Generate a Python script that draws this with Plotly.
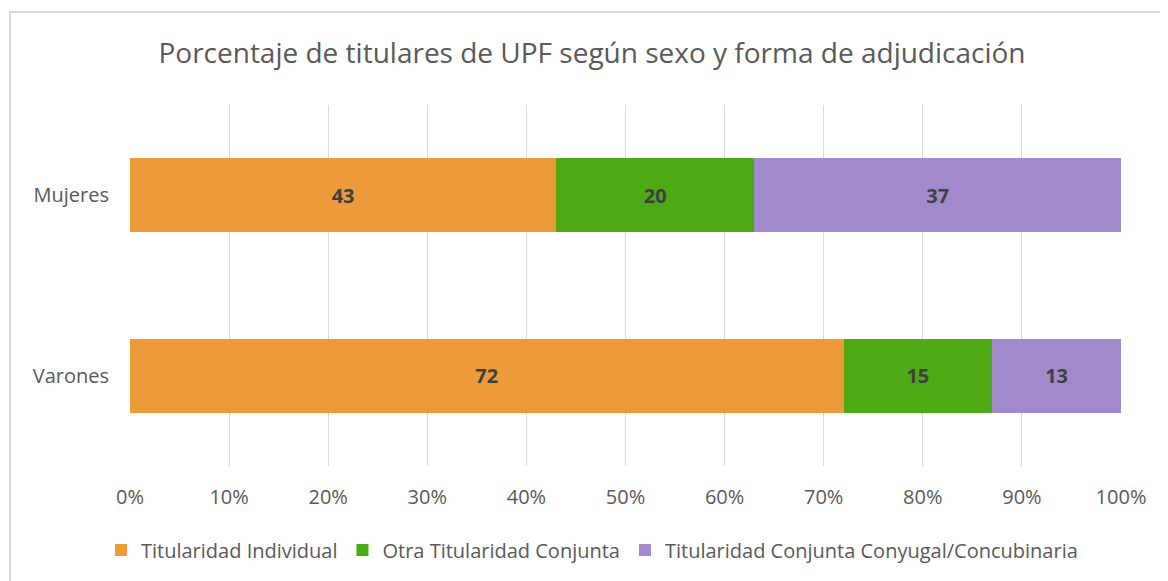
import plotly.graph_objects as go

categories = ["Varones", "Mujeres"]
series_names = ["Titularidad Individual", "Otra Titularidad Conjunta", "Titularidad Conjunta Conyugal/Concubinaria"]
individual = [72, 43]
otra_conjunta = [15, 20]
conyugal = [13, 37]
colors = ["#EC9A3A", "#4DA914", "#A08ACB"]
x_ticks = [0, 10, 20, 30, 40, 50, 60, 70, 80, 90, 100]
x_tick_labels = [f"{v}%" for v in x_ticks]

# page has an 8px body margin; positions below are figure coordinates
OFF = 8
W, H = 1168, 581
L = 130 - OFF
T = 105 - OFF
R = W - (1121 - OFF)
B = H - (466 - OFF)
pw, ph = W - L - R, H - T - B

fig = go.Figure()
for name, vals, col in zip(series_names, [individual, otra_conjunta, conyugal], colors):
    fig.add_trace(go.Bar(
        y=categories, x=vals, name=name, orientation="h",
        marker=dict(color=col, line=dict(width=0)),
        text=[str(v) for v in vals], textposition="inside", insidetextanchor="middle",
        textfont=dict(family="Open Sans", size=20, color="#404040", weight="bold"),
        hoverinfo="skip",
    ))

def px_x(x):
    return (x - L) / pw

def px_y(y):
    return 1 - (y - T) / ph

fig.update_layout(
    width=W, height=H,
    barmode="stack", bargap=0.59,
    margin=dict(l=L, r=R, t=T, b=B),
    paper_bgcolor="white", plot_bgcolor="white",
    font=dict(family="Open Sans", color="#595959"),
    title=dict(text="Porcentaje de titulares de UPF según sexo y forma de adjudicación",
               x=0.5, xanchor="center", xref="container", y=1 - (53 - OFF) / H, yanchor="middle",
               font=dict(size=28, color="#595959")),
    xaxis=dict(range=[0, 100], tickvals=x_ticks, ticktext=x_tick_labels,
               showgrid=True, gridcolor="#D9D9D9", gridwidth=1, zeroline=False,
               showline=False, ticks="", tickfont=dict(size=20, color="#595959"),
               ticklabelstandoff=17, fixedrange=True),
    yaxis=dict(showgrid=False, zeroline=False, showline=False, ticks="",
               tickfont=dict(size=20, color="#595959"), ticklabelstandoff=20,
               fixedrange=True),
    legend=dict(orientation="h", x=0.5, xanchor="center", xref="container",
                y=1 - (550 - OFF) / H, yref="container", yanchor="middle",
                font=dict(size=20, color="#595959"), traceorder="normal",
                itemwidth=30),
    uniformtext=dict(minsize=8, mode="show"),
    shapes=[dict(type="rect", xref="paper", yref="paper",
                 x0=px_x(10 - OFF), x1=px_x(1250), y0=px_y(700), y1=px_y(12 - OFF),
                 line=dict(color="#D9D9D9", width=2), fillcolor="rgba(0,0,0,0)",
                 layer="below")],
)

fig.write_html("out.html")
